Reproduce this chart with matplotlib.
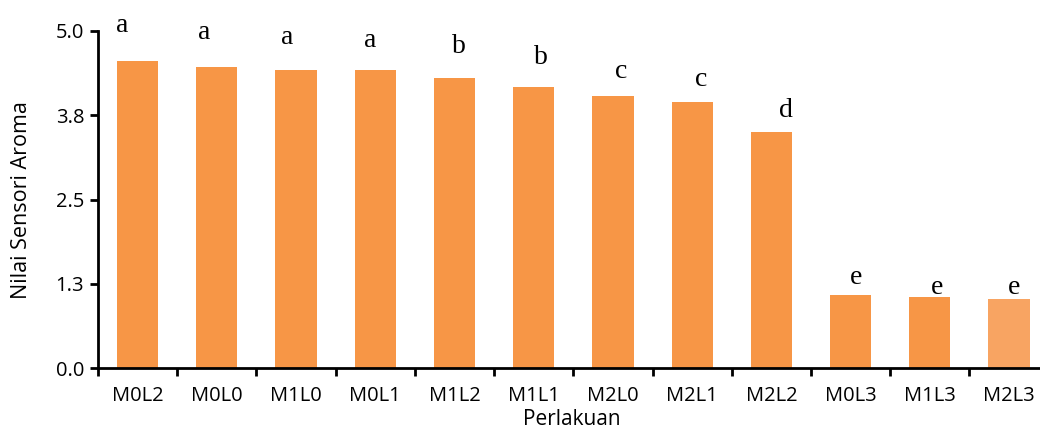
import matplotlib.pyplot as plt
import numpy as np

perlakuan = ["M0L2", "M0L0", "M1L0", "M0L1", "M1L2", "M1L1",
             "M2L0", "M2L1", "M2L2", "M0L3", "M1L3", "M2L3"]
nilai = [4.55, 4.47, 4.42, 4.42, 4.30, 4.17, 4.04, 3.95, 3.50, 1.08, 1.05, 1.02]
notasi = ["a", "a", "a", "a", "b", "b", "c", "c", "d", "e", "e", "e"]
yticks = [0.0, 1.25, 2.5, 3.75, 5.0]
ytick_labels = ["0.0", "1.3", "2.5", "3.8", "5.0"]

# label offsets in pixels (x, y) from bar top centre
dx = [-15, -13, -9, -5, 4, 7, 8, 9, 15, 5, 7, 5]
dy = [36, 34, 33, 30, 32, 29, 24, 22, 22, 18, 10, 12]

colors = ["#F79646"] * 11 + ["#F8A462"]

fig = plt.figure(figsize=(10.4, 4.25), dpi=100)
ax = fig.add_axes([98 / 1040, 1 - 368 / 425, 950.7 / 1040, 337 / 425])

x = np.arange(len(perlakuan))
ax.bar(x, nilai, width=0.52, color=colors)

for i in range(len(x)):
    ax.annotate(notasi[i], (x[i], nilai[i]), xytext=(dx[i] * 0.72, dy[i] * 0.72),
                textcoords="offset points", ha="center", va="center",
                fontsize=20, family="Liberation Serif")

ax.set_xlim(-0.5, len(x) - 0.5)
ax.set_ylim(0, 5.0)
ax.set_yticks(yticks)
ax.set_yticklabels(ytick_labels)
ax.set_xticks(x)
ax.set_xticklabels(perlakuan)
ax.set_xticks(np.arange(-0.5, len(x)), minor=True)
ax.tick_params(axis="x", which="major", length=0, pad=13, labelsize=14.5)
ax.tick_params(axis="x", which="minor", length=6, width=2, direction="out")
ax.tick_params(axis="y", length=6, width=2, labelsize=14.5, pad=4)

for s in ["top", "right"]:
    ax.spines[s].set_visible(False)
for s in ["left", "bottom"]:
    ax.spines[s].set_linewidth(2)

for lab in ax.get_xticklabels() + ax.get_yticklabels():
    lab.set_family("Open Sans")

fig.text(22 / 1040, 1 - 200 / 425, "Nilai Sensori Aroma", rotation=90,
         ha="center", va="center", fontsize=15.5, family="Open Sans")
fig.text(572 / 1040, 1 - 409 / 425, "Perlakuan", ha="center", va="top",
         fontsize=15, family="Open Sans")

fig.savefig("out.png", dpi=100)
